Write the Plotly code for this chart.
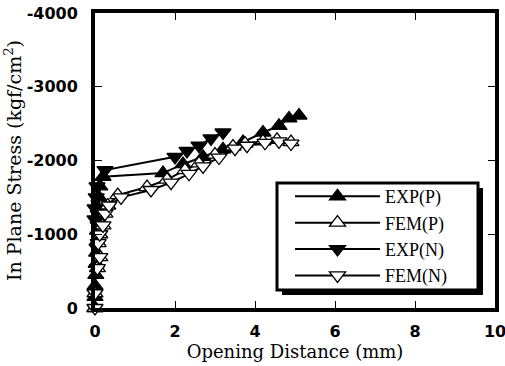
import plotly.graph_objects as go

# ---- data ----
exp_p_x = [0.0, 0.0, 0.0, 0.02, 0.03, 0.04, 0.05, 0.06, 0.08, 0.08, 0.1, 0.12, 0.2, 1.7, 2.2, 2.7, 3.2, 3.7, 4.2, 4.6, 4.85, 5.1]
exp_p_y = [0, -150, -300, -450, -600, -750, -900, -1050, -1200, -1350, -1500, -1650, -1780, -1830, -1950, -2050, -2150, -2250, -2380, -2470, -2570, -2610]

fem_p_x = [0.0, 0.0, -0.02, 0.06, 0.12, 0.08, 0.12, 0.2, 0.25, 0.32, 0.57, 1.3, 1.8, 2.25, 2.6, 3.0, 3.45, 3.75, 4.2, 4.55, 4.9]
fem_p_y = [0, -200, -350, -540, -690, -880, -1000, -1120, -1280, -1390, -1530, -1640, -1740, -1870, -1960, -2080, -2190, -2230, -2260, -2280, -2250]

exp_n_x = [-0.03, -0.05, -0.04, -0.05, -0.03, -0.05, -0.02, -0.04, 0.0, 0.0, 0.03, 0.05, 0.25, 2.0, 2.3, 2.6, 2.9, 3.2]
exp_n_y = [0, -150, -300, -450, -600, -750, -900, -1050, -1200, -1350, -1500, -1650, -1870, -2050, -2130, -2200, -2300, -2380]

fem_n_x = [0.0, 0.0, -0.02, 0.06, 0.12, 0.08, 0.12, 0.2, 0.25, 0.35, 0.65, 1.4, 1.9, 2.35, 2.7, 3.1, 3.5, 3.8, 4.25, 4.6, 4.9]
fem_n_y = [0, -200, -350, -540, -690, -880, -1000, -1120, -1280, -1390, -1500, -1600, -1700, -1820, -1920, -2040, -2160, -2200, -2240, -2260, -2230]

series_names = ["EXP(P)", "FEM(P)", "EXP(N)", "FEM(N)"]

x_ticks = [0, 2, 4, 6, 8, 10]
x_ticktext = ["0", "2", "4", "6", "8", "10"]
y_ticks = [0, -1000, -2000, -3000, -4000]
y_ticktext = ["0", "-1000", "-2000", "-3000", "-4000"]

fig = go.Figure()

styles = [
    (exp_p_x, exp_p_y, "triangle-up", "black"),
    (fem_p_x, fem_p_y, "triangle-up", "white"),
    (exp_n_x, exp_n_y, "triangle-down", "black"),
    (fem_n_x, fem_n_y, "triangle-down", "white"),
]
for (xs, ys, sym, fill), name in zip(styles, series_names):
    fig.add_trace(go.Scatter(
        x=xs, y=ys, name=name, mode="lines+markers",
        line=dict(color="black", width=2),
        marker=dict(symbol=sym, size=14, color=fill, line=dict(color="black", width=1.3)),
        cliponaxis=False,
    ))

# legend frame with drop shadow (paper coordinates)
fig.add_shape(type="rect", xref="paper", yref="paper",
              x0=0.4675, x1=0.97, y0=0.044, y1=0.407,
              fillcolor="black", line=dict(width=0), layer="above")
fig.add_shape(type="rect", xref="paper", yref="paper",
              x0=0.455, x1=0.9575, y0=0.061, y1=0.4237,
              fillcolor="white", line=dict(color="black", width=3), layer="above")

fig.update_layout(
    width=505, height=366,
    margin=dict(l=95, r=10, t=13, b=58),
    paper_bgcolor="white", plot_bgcolor="white",
    showlegend=True,
    legend=dict(
        x=0.4875, y=0.4405, xanchor="left", yanchor="top",
        bgcolor="rgba(0,0,0,0)", borderwidth=0,
        font=dict(family="Liberation Serif", size=18, color="black"),
        itemwidth=85, tracegroupgap=0,
    ),
    xaxis=dict(
        range=[0, 10], tickvals=x_ticks, ticktext=x_ticktext,
        ticks="inside", ticklen=7, tickwidth=1, tickcolor="black",
        showline=True, linewidth=4, linecolor="black", mirror="allticks",
        showgrid=False, zeroline=False, automargin=False,
        ticklabelstandoff=6, ticklabeloverflow="allow",
        tickfont=dict(family="DejaVu Sans", size=16, color="black", weight="bold"),
        title=dict(text="Opening Distance (mm)", standoff=0,
                   font=dict(family="DejaVu Serif", size=18, color="black")),
    ),
    yaxis=dict(
        range=[0, -4000], tickvals=y_ticks, ticktext=y_ticktext,
        ticks="inside", ticklen=7, tickwidth=1, tickcolor="black",
        showline=True, linewidth=4, linecolor="black", mirror="allticks",
        showgrid=False, zeroline=False, automargin=False,
        ticklabelstandoff=10,
        tickfont=dict(family="DejaVu Sans", size=16, color="black", weight="bold"),
        title=dict(text="In Plane Stress (kgf/cm<sup>2</sup>)", standoff=1,
                   font=dict(family="DejaVu Serif", size=19, color="black")),
    ),
)

fig.write_html("out.html")
